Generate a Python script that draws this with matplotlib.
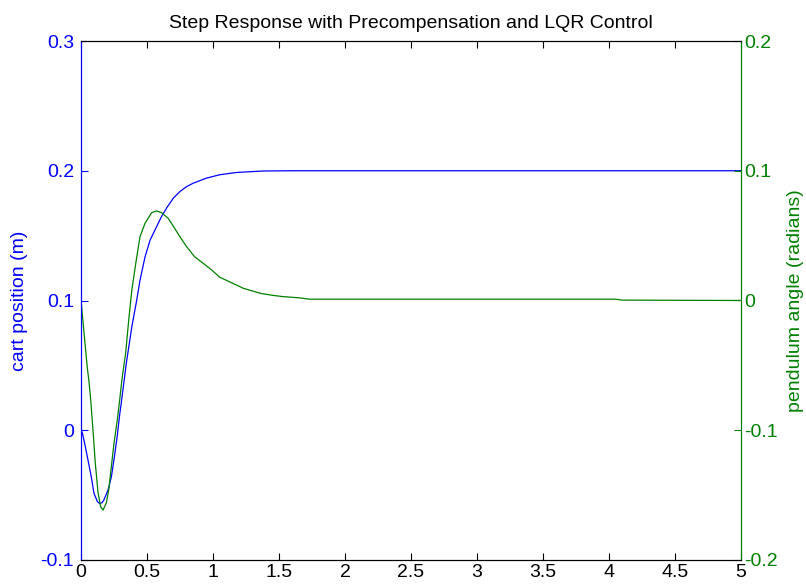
import matplotlib
matplotlib.use("Agg")
import matplotlib.pyplot as plt

# -------------------------------
# DATA
# -------------------------------
t_cart = [0.0, 0.01, 0.028, 0.053, 0.078, 0.098, 0.124, 0.141, 0.16, 0.174,
          0.205, 0.23, 0.255, 0.275, 0.293, 0.305, 0.343, 0.385, 0.422, 0.447,
          0.485, 0.523, 0.573, 0.61, 0.65, 0.70, 0.75, 0.80, 0.85, 0.95, 1.05,
          1.18, 1.38, 1.6, 2.0, 3.0, 4.0, 5.0]
cart_pos = [0.0, -0.002, -0.0103, -0.023, -0.036, -0.0485, -0.055, -0.0565,
            -0.0558, -0.0536, -0.046, -0.036, -0.019, -0.004, 0.012, 0.021,
            0.0514, 0.0797, 0.1002, 0.1156, 0.1336, 0.1464, 0.157, 0.1647,
            0.1715, 0.179, 0.184, 0.1878, 0.1904, 0.1943, 0.1969, 0.1987,
            0.1998, 0.2, 0.2, 0.2, 0.2, 0.2]

t_pend = [0.0, 0.003, 0.015, 0.033, 0.048, 0.061, 0.073, 0.091, 0.108, 0.129,
          0.149, 0.167, 0.192, 0.21, 0.23, 0.25, 0.275, 0.293, 0.31, 0.338,
          0.364, 0.385, 0.417, 0.447, 0.485, 0.535, 0.573, 0.61, 0.66, 0.71,
          0.75, 0.80, 0.86, 0.925, 0.99, 1.05, 1.23, 1.36, 1.45, 1.53, 1.66,
          1.73, 2.5, 3.5, 4.05, 4.1, 5.0]
pend_angle = [0.0, -0.003, -0.016, -0.036, -0.052, -0.063, -0.076, -0.100,
              -0.125, -0.148, -0.159, -0.1615, -0.156, -0.146, -0.128, -0.110,
              -0.092, -0.0767, -0.061, -0.0407, -0.0125, 0.008, 0.030, 0.0492,
              0.0595, 0.0677, 0.069, 0.0677, 0.0634, 0.0556, 0.049, 0.0415,
              0.0338, 0.0287, 0.0235, 0.018, 0.0094, 0.0055, 0.004, 0.003,
              0.002, 0.001, 0.001, 0.001, 0.001, 0.0003, 0.0]

x_ticks = [0, 0.5, 1, 1.5, 2, 2.5, 3, 3.5, 4, 4.5, 5]
x_labels = ["0", "0.5", "1", "1.5", "2", "2.5", "3", "3.5", "4", "4.5", "5"]
left_ticks = [-0.1, 0, 0.1, 0.2, 0.3]
left_labels = ["-0.1", "0", "0.1", "0.2", "0.3"]
right_ticks = [-0.2, -0.1, 0, 0.1, 0.2]
right_labels = ["-0.2", "-0.1", "0", "0.1", "0.2"]

BLUE = "#0000ff"
GREEN = "#008000"
FS = 14

plt.rcParams["font.family"] = ["Liberation Sans", "DejaVu Sans"]
plt.rcParams["font.size"] = FS

fig = plt.figure(figsize=(8.06, 5.88), dpi=100)
ax1 = fig.add_axes([81 / 806, 1 - 560 / 588, 660 / 806, 519 / 588])
ax2 = ax1.twinx()

# -------------------------------
# CURVES
# -------------------------------
ax1.plot(t_cart, cart_pos, color=BLUE, lw=0.9)
ax2.plot(t_pend, pend_angle, color=GREEN, lw=0.9)

ax1.set_xlim(0, 5)
ax1.set_ylim(-0.1, 0.3)
ax2.set_ylim(-0.2, 0.2)

ax1.set_xticks(x_ticks)
ax1.set_xticklabels(x_labels)
ax1.set_yticks(left_ticks)
ax1.set_yticklabels(left_labels)
ax2.set_yticks(right_ticks)
ax2.set_yticklabels(right_labels)

ax1.tick_params(axis="x", direction="in", top=True, length=5, pad=3,
                labelsize=FS, colors="black")
ax1.tick_params(axis="y", direction="in", length=5, pad=5,
                labelsize=FS, colors=BLUE)
ax2.tick_params(axis="y", direction="in", length=5, pad=2,
                labelsize=FS, colors=GREEN)

# spines
for ax in (ax1, ax2):
    ax.spines["top"].set_color("black")
    ax.spines["bottom"].set_color("black")
    ax.spines["left"].set_color(BLUE)
    ax.spines["right"].set_color(GREEN)

ax1.set_ylabel("cart position (m)", color=BLUE, fontsize=FS, labelpad=9)
ax2.set_ylabel("pendulum angle (radians)", color=GREEN, fontsize=FS, labelpad=7)
ax1.set_title("Step Response with Precompensation and LQR Control",
              fontsize=FS, pad=9)

fig.savefig("out.png", dpi=100)
plt.close(fig)
